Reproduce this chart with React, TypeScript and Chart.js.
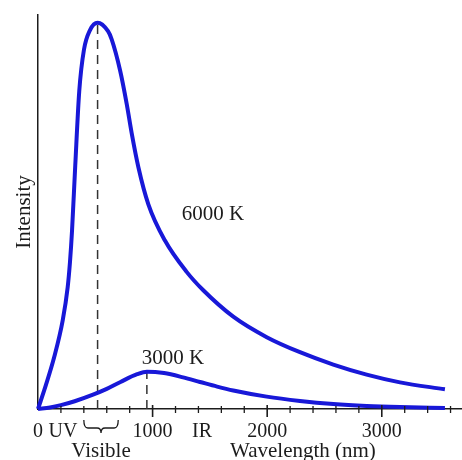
import React, { useEffect, useRef } from 'react';
import { Chart, registerables } from 'chart.js';

Chart.register(...registerables);

// 6000 K curve (wavelength nm, relative intensity)
const wl6000 = [0, 70, 142, 216, 259, 279, 297, 325, 360, 401, 454, 520, 611, 643, 716, 774, 817, 876, 963, 1108, 1297, 1440, 1704, 1996, 2286, 2577, 2868, 3159, 3551];
const int6000 = [0, 6.3, 13.5, 23.0, 31.5, 38.0, 46.2, 63.0, 82.3, 93.0, 98.1, 100, 97.8, 95.7, 87.7, 79.0, 71.5, 62.6, 53.0, 43.6, 35.5, 30.8, 23.9, 18.6, 14.7, 11.5, 8.9, 6.9, 5.1];

// 3000 K curve
const wl3000 = [0, 105, 200, 320, 480, 600, 720, 865, 950, 1100, 1266, 1414, 1563, 1704, 1996, 2286, 2577, 2868, 3159, 3551];
const int3000 = [0, 0.4, 1.0, 2.0, 3.7, 5.2, 7.0, 9.0, 9.65, 9.3, 8.2, 7.0, 5.8, 4.8, 3.2, 2.1, 1.3, 0.8, 0.5, 0.25];

const peak6000 = { x: 520, y: 100 };
const peak3000 = { x: 950, y: 9.65 };

const xTickValues = [0, 218, 1000, 1432, 2000, 3000];
const xTickLabels = ['0', 'UV', '1000', 'IR', '2000', '3000'];
const minorTicks = [200, 400, 600, 800, 1200, 1400, 1600, 1800, 2200, 2400, 2600, 2800, 3200, 3400, 3600];
const majorTicks = [1000, 2000, 3000];
const visibleRange = [400, 700];

const seriesLabels = ['6000 K', '3000 K'];
const seriesLabelPos = [{ x: 1527, y: 50.3 }, { x: 1178, y: 13.0 }];
const xTitle = 'Wavelength (nm)';
const xTitleAt = 2312;
const visibleLabel = 'Visible';
const yTitle = 'Intensity';
const yTitleAt = 51;

const BLUE = '#1818d8';
const INK = '#1c1c1c';
const FONT = "'Liberation Serif', 'Times New Roman', serif";

const decorPlugin = {
  id: 'decor',
  afterDraw(chart: any) {
    const ctx = chart.ctx;
    const xs = chart.scales.x;
    const ys = chart.scales.y;
    const axisY = ys.bottom;
    ctx.save();
    ctx.strokeStyle = INK;
    ctx.lineWidth = 1.3;
    // tick marks
    minorTicks.forEach((v) => {
      const px = xs.getPixelForValue(v);
      ctx.beginPath();
      ctx.moveTo(px, axisY - 3);
      ctx.lineTo(px, axisY + 4);
      ctx.stroke();
    });
    ctx.lineWidth = 1.6;
    majorTicks.forEach((v) => {
      const px = xs.getPixelForValue(v);
      ctx.beginPath();
      ctx.moveTo(px, axisY - 4);
      ctx.lineTo(px, axisY + 8);
      ctx.stroke();
    });
    // brace for visible range
    const x1 = xs.getPixelForValue(visibleRange[0]);
    const x2 = xs.getPixelForValue(visibleRange[1]);
    const xm = (x1 + x2) / 2;
    const yTop = axisY + 11;
    const yMid = axisY + 19;
    const yBot = axisY + 24;
    const r = 4;
    ctx.lineWidth = 1.3;
    ctx.beginPath();
    ctx.moveTo(x1, yTop);
    ctx.quadraticCurveTo(x1, yMid, x1 + r, yMid);
    ctx.lineTo(xm - r, yMid);
    ctx.quadraticCurveTo(xm, yMid, xm, yBot);
    ctx.quadraticCurveTo(xm, yMid, xm + r, yMid);
    ctx.lineTo(x2 - r, yMid);
    ctx.quadraticCurveTo(x2, yMid, x2, yTop);
    ctx.stroke();

    // texts
    ctx.fillStyle = INK;
    ctx.font = `21px ${FONT}`;
    ctx.textAlign = 'center';
    ctx.textBaseline = 'middle';
    seriesLabels.forEach((t, i) => {
      ctx.fillText(t, xs.getPixelForValue(seriesLabelPos[i].x), ys.getPixelForValue(seriesLabelPos[i].y));
    });
    ctx.fillText(visibleLabel, xm, axisY + 42);
    ctx.fillText(xTitle, xs.getPixelForValue(xTitleAt), axisY + 42);
    ctx.save();
    ctx.translate(24, ys.getPixelForValue(yTitleAt));
    ctx.rotate(-Math.PI / 2);
    ctx.fillText(yTitle, 0, 0);
    ctx.restore();
    ctx.restore();
  },
};

export default function App() {
  const ref = useRef<HTMLCanvasElement | null>(null);
  useEffect(() => {
    if (!ref.current) return;
    const toPts = (xs: number[], ys: number[]) => xs.map((x, i) => ({ x, y: ys[i] }));
    const chart = new Chart(ref.current, {
      type: 'scatter',
      data: {
        datasets: [
          {
            data: toPts(wl6000, int6000),
            showLine: true,
            borderColor: BLUE,
            borderWidth: 4,
            pointRadius: 0,
            cubicInterpolationMode: 'monotone',
            clip: false,
            order: 1,
          } as any,
          {
            data: toPts(wl3000, int3000),
            showLine: true,
            borderColor: BLUE,
            borderWidth: 4,
            pointRadius: 0,
            cubicInterpolationMode: 'monotone',
            clip: false,
            order: 1,
          } as any,
          {
            data: [{ x: peak6000.x, y: 0 }, { x: peak6000.x, y: peak6000.y }],
            showLine: true,
            borderColor: '#333',
            borderWidth: 1.5,
            borderDash: [9, 6],
            pointRadius: 0,
            order: 2,
          } as any,
          {
            data: [{ x: peak3000.x, y: 0 }, { x: peak3000.x, y: peak3000.y }],
            showLine: true,
            borderColor: '#333',
            borderWidth: 1.5,
            borderDash: [9, 6],
            pointRadius: 0,
            order: 2,
          } as any,
        ],
      },
      options: {
        animation: false,
        responsive: false,
        devicePixelRatio: 1,
        layout: { padding: { top: 15, left: 0, right: 0, bottom: 0 } },
        plugins: { legend: { display: false }, tooltip: { enabled: false } },
        font: { family: FONT },
        scales: {
          x: {
            type: 'linear',
            min: 0,
            max: 3700,
            afterBuildTicks: (s: any) => {
              s.ticks = xTickValues.map((v) => ({ value: v }));
            },
            afterFit: (s: any) => {
              s.height = 51;
            },
            ticks: {
              autoSkip: false,
              maxRotation: 0,
              padding: 11,
              color: INK,
              font: { family: FONT, size: 20 },
              callback: (v: any) => {
                const i = xTickValues.indexOf(Number(v));
                return i >= 0 ? xTickLabels[i] : '';
              },
            },
            grid: { display: false, drawTicks: false },
            border: { display: true, color: INK, width: 1.5 },
          },
          y: {
            type: 'linear',
            min: 0,
            max: 102,
            afterFit: (s: any) => {
              s.width = 38;
            },
            ticks: { display: false },
            grid: { display: false, drawTicks: false },
            border: { display: true, color: INK, width: 1.5 },
          },
        },
      } as any,
      plugins: [decorPlugin],
    });
    return () => chart.destroy();
  }, []);
  return (
    <div style={{ position: 'fixed', left: 0, top: 0, width: 462, height: 460, background: '#fff' }}>
      <canvas ref={ref} width={462} height={460} style={{ width: 462, height: 460, display: 'block' }} />
    </div>
  );
}
